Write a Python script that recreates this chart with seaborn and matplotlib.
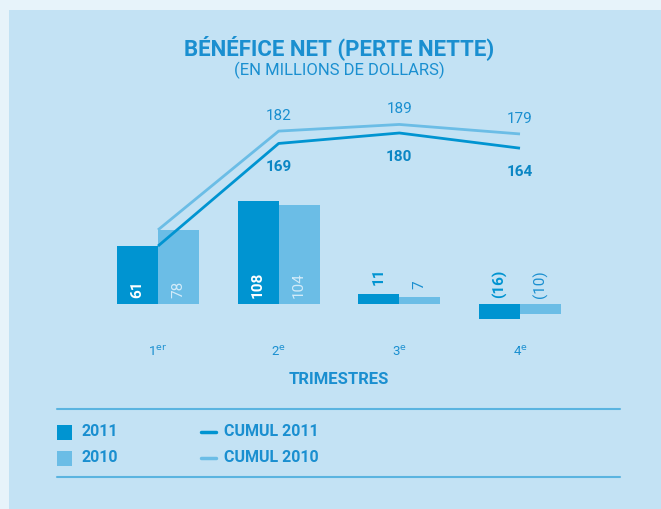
import numpy as np
import pandas as pd
import matplotlib
matplotlib.use("Agg")
import matplotlib.pyplot as plt
import seaborn as sns
from matplotlib.patches import Rectangle
from matplotlib.lines import Line2D

sns.set_style("white")
plt.rcParams["font.family"] = ["Roboto", "DejaVu Sans"]

# data
quarters = ["1$^{\\mathrm{er}}$", "2$^{\\mathrm{e}}$", "3$^{\\mathrm{e}}$", "4$^{\\mathrm{e}}$"]
net_2011 = [61, 108, 11, -16]
net_2010 = [78, 104, 7, -10]
cumul_2011 = [61, 169, 180, 164]
cumul_2010 = [78, 182, 189, 179]

DARK = "#0094d1"
LIGHT = "#6bbde6"
TEXT = "#1a8fd0"
PANEL = "#c3e2f4"
OUTER = "#e7f3fa"

W, H = 661, 509
fig = plt.figure(figsize=(W / 100, H / 100), dpi=100, facecolor=OUTER)
fig.patches.append(Rectangle((9 / W, 0), 1, 1 - 10 / H, transform=fig.transFigure,
                             facecolor=PANEL, edgecolor="none", zorder=-5))

def px_axes(x0, y0, x1, y1):
    return [x0 / W, 1 - y1 / H, (x1 - x0) / W, (y1 - y0) / H]

ax = fig.add_axes(px_axes(80, 90, 600, 335))
ax.set_facecolor("none")
ax.set_zorder(3)

df = pd.DataFrame({
    "quarter": quarters * 2,
    "value": net_2011 + net_2010,
    "year": ["2011"] * 4 + ["2010"] * 4,
})
sns.barplot(data=df, x="quarter", y="value", hue="year", hue_order=["2011", "2010"],
            palette={"2011": DARK, "2010": LIGHT}, width=0.68, saturation=1,
            linewidth=0, legend=False, ax=ax, zorder=2)

# y scale: baseline at 304 px, 0.95 px per unit
ppu = 0.95
ax.set_ylim(-(335 - 304) / ppu, (304 - 90) / ppu)
ax.set_xlim((80 - 158) / 120.67, (600 - 158) / 120.67)

xs = np.arange(len(quarters))
ax.plot(xs, cumul_2010, color=LIGHT, lw=2, zorder=3, solid_capstyle="butt")
ax.plot(xs, cumul_2011, color=DARK, lw=2, zorder=3, solid_capstyle="butt")

# bar labels
for i in range(len(quarters)):
    for j, (vals, inner, outer) in enumerate([(net_2011, "white", DARK),
                                               (net_2010, "#d2ebf9", TEXT)]):
        v = vals[i]
        bx = i + (-0.17 if j == 0 else 0.17)
        txt = f"({abs(v)})" if v < 0 else str(v)
        if v >= 30:
            y, col = 6, inner
        elif v > 0:
            y, col = v + 9, outer
        else:
            y, col = 6, outer
        ax.text(bx, y, txt, rotation=90, ha="center", va="bottom", color=col,
                fontsize=11, fontweight="bold" if j == 0 else "normal", zorder=4)

# cumulative labels
for i in range(1, len(quarters)):
    ax.annotate(str(cumul_2010[i]), (i, cumul_2010[i]), xytext=(0, 11),
                textcoords="offset points", ha="center", va="center",
                color=TEXT, fontsize=11)
    ax.annotate(str(cumul_2011[i]), (i, cumul_2011[i]), xytext=(0, -17),
                textcoords="offset points", ha="center", va="center",
                color="#0a86c4", fontsize=11, fontweight="bold")

ax.set_xlabel("")
ax.set_ylabel("")
ax.set_yticks([])
ax.set_xticks([])
for s in ax.spines.values():
    s.set_visible(False)

# quarter labels below chart
for i, q in enumerate(quarters):
    fig.text((158 + 120.67 * i) / W, 1 - 352 / H, q, ha="center", va="center",
             color=TEXT, fontsize=9.5)

fig.text(339 / W, 1 - 379 / H, "TRIMESTRES", ha="center", va="center",
         color=TEXT, fontsize=12, fontweight="bold")

# title
fig.text(339 / W, 1 - 48 / H, "BÉNÉFICE NET (PERTE NETTE)", ha="center", va="center",
         color=TEXT, fontsize=16, fontweight="bold")
fig.text(339 / W, 1 - 70 / H, "(EN MILLIONS DE DOLLARS)", ha="center", va="center",
         color=TEXT, fontsize=12)

# legend block
for yy in (409, 477):
    fig.add_artist(Line2D([57 / W, 620 / W], [1 - yy / H] * 2, color="#5ab4e0", lw=1.5))
for yy, c, lab in ((432, DARK, "2011"), (458, LIGHT, "2010")):
    fig.patches.append(Rectangle((57 / W, 1 - (yy + 7.5) / H), 15 / W, 15 / H,
                                 transform=fig.transFigure, facecolor=c, edgecolor="none"))
    fig.text(82 / W, 1 - yy / H, lab, ha="left", va="center", color=TEXT,
             fontsize=11.5, fontweight="bold")
for yy, c, lab in ((432, DARK, "CUMUL 2011"), (458, LIGHT, "CUMUL 2010")):
    fig.add_artist(Line2D([201 / W, 216 / W], [1 - yy / H] * 2, color=c, lw=2.5))
    fig.text(224 / W, 1 - yy / H, lab, ha="left", va="center", color=TEXT,
             fontsize=11.5, fontweight="bold")

fig.savefig("out.png", dpi=100, facecolor=OUTER)
